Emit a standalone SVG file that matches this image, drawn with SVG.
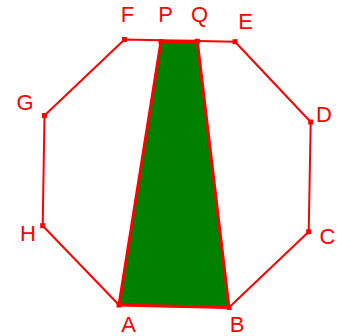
<svg xmlns="http://www.w3.org/2000/svg" width="337" height="336" viewBox="0 0 337 336">
<style>
.edge{fill:none;stroke:#ff0000;stroke-width:2;stroke-linejoin:round}
.trap{fill:#008000;stroke:#ff0000;stroke-width:3;stroke-linejoin:round}
.pt{fill:#ff0000}
.lbl{font-family:"Liberation Sans",Arial,sans-serif;font-size:22px;fill:#ff0000;text-anchor:middle}
</style>
<rect width="337" height="336" fill="#ffffff"/>
<g id="connectors">
<polygon class="edge" points="119,305 229,307.5 308.7,231.7 310.7,122 235,41.7 124.5,39.5 44.5,115.5 42.7,225.7"/>
<polygon id="trapezoid" class="trap" points="119,305 229,307.5 197.3,41.3 161,41.5"/>
</g>
<g id="A"><rect class="pt" x="116.5" y="302.5" width="5" height="5"/><text class="lbl" x="128.5" y="332">A</text></g>
<g id="B"><rect class="pt" x="226.5" y="305" width="5" height="5"/><text class="lbl" x="237" y="332">B</text></g>
<g id="C"><rect class="pt" x="306.2" y="229.2" width="5" height="5"/><text class="lbl" x="327.5" y="244">C</text></g>
<g id="D"><rect class="pt" x="308.2" y="119.5" width="5" height="5"/><text class="lbl" x="324" y="122">D</text></g>
<g id="E"><rect class="pt" x="232.5" y="39.2" width="5" height="5"/><text class="lbl" x="245.5" y="29">E</text></g>
<g id="F"><rect class="pt" x="122" y="37" width="5" height="5"/><text class="lbl" x="127.5" y="22">F</text></g>
<g id="G"><rect class="pt" x="42" y="113" width="5" height="5"/><text class="lbl" x="25" y="110">G</text></g>
<g id="H"><rect class="pt" x="40.2" y="223.2" width="5" height="5"/><text class="lbl" x="28" y="241">H</text></g>
<g id="P"><rect class="pt" x="158.5" y="39" width="5" height="5"/><text class="lbl" x="165.5" y="22">P</text></g>
<g id="Q"><rect class="pt" x="194.8" y="38.8" width="5" height="5"/><text class="lbl" x="199.5" y="22">Q</text></g>
</svg>
